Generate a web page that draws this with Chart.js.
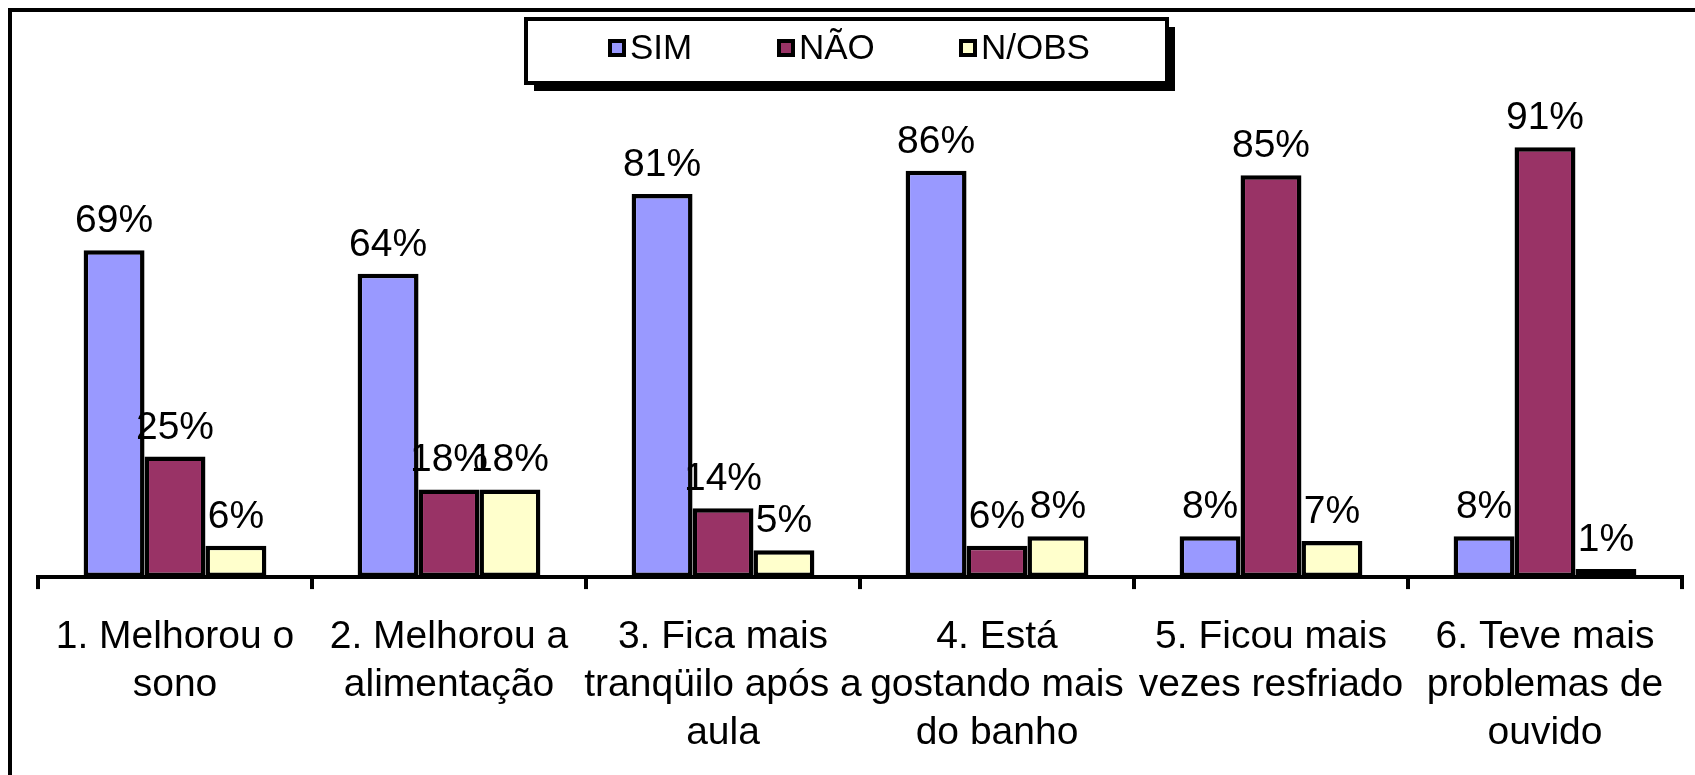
<!DOCTYPE html>
<html>
<head>
<meta charset="utf-8">
<script src="https://cdn.jsdelivr.net/npm/chart.js@4/dist/chart.umd.min.js"></script>
<style>
  html, body { margin: 0; padding: 0; background: #fff; }
  #wrap { position: relative; width: 1695px; height: 775px; }
</style>
</head>
<body>
<div id="wrap"><canvas id="c" width="1695" height="775"></canvas></div>
<script>
const categories = [
  ["1. Melhorou o", "sono"],
  ["2. Melhorou a", "alimentação"],
  ["3. Fica mais", "tranqüilo após a", "aula"],
  ["4. Está", "gostando mais", "do banho"],
  ["5. Ficou mais", "vezes resfriado"],
  ["6. Teve mais", "problemas de", "ouvido"]
];
const seriesNames = ["SIM", "NÃO", "N/OBS"];
const simValues = [69, 64, 81, 86, 8, 8];
const naoValues = [25, 18, 14, 6, 85, 91];
const nobsValues = [6, 18, 5, 8, 7, 1];
const seriesColors = ["#9999FF", "#993366", "#FFFFCC"];

const FONT = "'Liberation Sans', Arial, sans-serif";
// small negative floor emulates the outward half of the bar outline in the original
const Y_MIN = -0.7;

const framePlugin = {
  id: 'frame',
  beforeDraw(chart) {
    const ctx = chart.ctx;
    ctx.save();
    ctx.fillStyle = '#fff';
    ctx.fillRect(0, 0, chart.width, chart.height);
    ctx.strokeStyle = '#000';
    ctx.lineWidth = 4;
    ctx.beginPath();
    ctx.moveTo(10, chart.height);
    ctx.lineTo(10, 10);
    ctx.lineTo(chart.width, 10);
    ctx.stroke();
    ctx.restore();
  }
};

const legendPlugin = {
  id: 'boxLegend',
  afterDraw(chart) {
    const ctx = chart.ctx;
    const bx = 526, by = 19, bw = 641, bh = 64;
    ctx.save();
    ctx.fillStyle = '#000';
    ctx.fillRect(bx + 8, by + 8, bw, bh);
    ctx.fillStyle = '#fff';
    ctx.fillRect(bx, by, bw, bh);
    ctx.strokeStyle = '#000';
    ctx.lineWidth = 4;
    ctx.strokeRect(bx, by, bw, bh);
    const xs = [610, 779, 961];
    const cy = 48;
    ctx.font = '35px ' + FONT;
    ctx.textBaseline = 'middle';
    ctx.textAlign = 'left';
    chart.data.datasets.forEach((ds, i) => {
      const sx = xs[i];
      ctx.fillStyle = '#000';
      ctx.fillRect(sx - 2, cy - 9, 18, 18);
      ctx.fillStyle = ds.backgroundColor;
      ctx.fillRect(sx + 2, cy - 5, 10, 10);
      ctx.fillStyle = '#000';
      ctx.fillText(ds.label, sx + 20, cy + 1);
    });
    ctx.restore();
  }
};

const valueLabels = {
  id: 'valueLabels',
  afterDatasetsDraw(chart) {
    const ctx = chart.ctx;
    ctx.save();
    ctx.font = '39px ' + FONT;
    ctx.fillStyle = '#000';
    ctx.textAlign = 'center';
    ctx.textBaseline = 'alphabetic';
    chart.data.datasets.forEach((ds, di) => {
      const meta = chart.getDatasetMeta(di);
      meta.data.forEach((bar, i) => {
        ctx.fillText(ds.data[i] + '%', bar.x, bar.y - 18);
      });
    });
    ctx.restore();
  }
};

new Chart(document.getElementById('c'), {
  type: 'bar',
  data: {
    labels: categories,
    datasets: [
      { label: seriesNames[0], data: simValues, backgroundColor: seriesColors[0] },
      { label: seriesNames[1], data: naoValues, backgroundColor: seriesColors[1] },
      { label: seriesNames[2], data: nobsValues, backgroundColor: seriesColors[2] }
    ].map(d => Object.assign(d, {
      borderColor: '#000', borderWidth: 4.5, borderSkipped: false,
      base: Y_MIN,
      categoryPercentage: 0.667, barPercentage: 1.0
    }))
  },
  options: {
    responsive: false,
    animation: false,
    devicePixelRatio: 1,
    layout: { padding: { top: 105, left: 38, right: 13, bottom: -6 } },
    plugins: {
      legend: { display: false },
      tooltip: { enabled: false },
      title: { display: false }
    },
    scales: {
      x: {
        offset: true,
        border: { display: true, color: '#000', width: 4 },
        grid: {
          display: true, offset: true, drawOnChartArea: false, drawTicks: true,
          tickLength: 12, lineWidth: 4, color: '#000'
        },
        ticks: {
          color: '#000', autoSkip: false, maxRotation: 0, minRotation: 0,
          padding: 24,
          font: { family: FONT, size: 39, lineHeight: 1.23 }
        }
      },
      y: {
        display: false, min: Y_MIN, max: 100
      }
    }
  },
  plugins: [framePlugin, valueLabels, legendPlugin]
});
</script>
</body>
</html>
